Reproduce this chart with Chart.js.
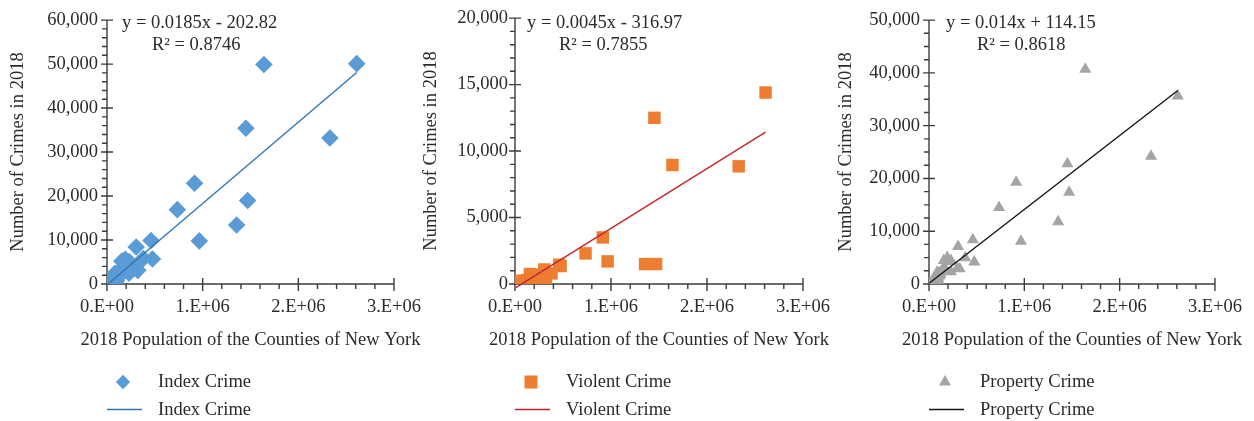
<!DOCTYPE html>
<html>
<head>
<meta charset="utf-8">
<title>Crimes vs. County Population, New York 2018</title>
<script src="https://cdn.jsdelivr.net/npm/chart.js@4.4.1/dist/chart.umd.min.js"></script>
<style>
  html, body { margin: 0; padding: 0; background: #ffffff; }
  #wrap { position: relative; width: 1254px; height: 421px; overflow: hidden; }
  #wrap canvas { position: absolute; left: 0; top: 0; }
</style>
</head>
<body>
<div id="wrap">
  <canvas id="c1" width="1254" height="421"></canvas>
  <canvas id="c2" width="1254" height="421"></canvas>
  <canvas id="c3" width="1254" height="421"></canvas>
</div>
<script>
// ---- data: one entry per county, ordered by population ----
const population = [
  2610000, 2330000, 1640000, 1452000, 1470000, 1355000, 965000, 915000, 735000, 475000,
  460000, 380000, 322000, 305000, 295000, 231000, 230000, 210000, 191000, 178000,
  159000, 155000, 127000, 118000, 113000, 110000, 108000, 103000, 99000, 96000,
  90000, 84000, 80000, 77000, 77000, 75000, 71000, 64000, 63000, 62000,
  61000, 60000, 59000, 58000, 53000, 50000, 49000, 49000, 48000, 48000,
  47000, 47000, 45000, 41000, 40000, 37000, 34000, 31000, 26000, 25000,
  18000, 4500
];
const indexCrime = [
  50100, 33200, 49900, 35400, 19000, 13400, 9800, 22900, 16900, 5700,
  9900, 5800, 3100, 8400, 3600, 5100, 2450, 4950, 5600, 2850,
  3550, 5200, 2600, 1950, 2200, 2000, 1650, 2230, 760, 1410,
  1190, 2450, 1820, 1540, 1430, 1790, 970, 1480, 850, 990,
  650, 760, 860, 1090, 1110, 640, 530, 1000, 660, 960,
  770, 540, 540, 650, 420, 430, 440, 320, 210, 210,
  210, 42
];
const violentCrime = [
  14400, 8850, 8950, 12500, 1500, 1500, 1700, 3500, 2300, 1350,
  1450, 800, 250, 1090, 600, 650, 150, 700, 600, 250,
  350, 750, 300, 150, 200, 100, 150, 130, 60, 110,
  90, 250, 120, 140, 130, 190, 70, 80, 50, 90,
  50, 60, 60, 90, 110, 40, 30, 100, 60, 60,
  70, 40, 40, 50, 20, 30, 40, 20, 10, 10,
  10, 2
];
const propertyCrime = [
  35600, 24200, 40700, 22800, 17400, 11800, 8100, 19300, 14500, 4150,
  8400, 4950, 2900, 7100, 3000, 4450, 2300, 4250, 5000, 2600,
  3200, 4450, 2300, 1800, 2000, 1900, 1500, 2100, 700, 1300,
  1100, 2200, 1700, 1400, 1300, 1600, 900, 1400, 800, 900,
  600, 700, 800, 1000, 1000, 600, 500, 900, 600, 900,
  700, 500, 500, 600, 400, 400, 400, 300, 200, 200,
  200, 40
];

// series names and linear-fit results for each panel
const seriesLabels = ['Index Crime', 'Violent Crime', 'Property Crime'];
const trendSlopes = [0.0185, 0.0045, 0.014];
const trendIntercepts = [-202.82, -316.97, 114.15];
const trendR2 = [0.8746, 0.7855, 0.8618];

// axis ranges and tick steps
const xTickValues = [0, 1000000, 2000000, 3000000];
const xMinorStep = 200000;
const yMaxima = [60000, 20000, 50000];
const yMajorSteps = [10000, 5000, 10000];
const yMinorSteps = [2000, 1000, 2500];

const xAxisTitle = '2018 Population of the Counties of New York';
const yAxisTitle = 'Number of Crimes in 2018';

// ---- drawing ----
const SERIF = "'Liberation Serif', 'Times New Roman', serif";
const FONT_SIZE = 18.5;
const TEXT = '#2b2b2b';
const AXIS = '#3c3c3c';

function sciLabel(v) {
  if (v === 0) return '0.E+00';
  const e = Math.floor(Math.log10(v));
  const m = v / Math.pow(10, e);
  return m + '.E+' + String(e).padStart(2, '0');
}

function markerPath(ctx, style, x, y, r) {
  ctx.beginPath();
  if (style === 'rectRot') {
    ctx.moveTo(x, y - r); ctx.lineTo(x + r, y); ctx.lineTo(x, y + r); ctx.lineTo(x - r, y);
  } else if (style === 'rect') {
    const h = r * Math.SQRT1_2;
    ctx.rect(x - h, y - h, 2 * h, 2 * h);
  } else {
    const s = Math.sin(Math.PI / 3) * r;
    ctx.moveTo(x, y - r); ctx.lineTo(x + s, y + r / 2); ctx.lineTo(x - s, y + r / 2);
  }
  ctx.closePath();
}

// axes with crossing major ticks and outside minor ticks
const axisFrame = {
  id: 'axisFrame',
  beforeDatasetsDraw(chart, args, o) {
    const { ctx, chartArea: a, scales: { x, y } } = chart;
    ctx.save();
    ctx.strokeStyle = AXIS;
    ctx.lineWidth = 1.4;
    ctx.beginPath();
    ctx.moveTo(a.left, a.top); ctx.lineTo(a.left, a.bottom); ctx.lineTo(a.right, a.bottom);
    for (let v = 0; v <= y.max + 1e-6; v += o.yMinor) {
      const p = y.getPixelForValue(v);
      const major = Math.abs(v / o.yStep - Math.round(v / o.yStep)) < 1e-6;
      if (major) { ctx.moveTo(a.left - 6, p); ctx.lineTo(a.left + 6, p); }
      else { ctx.moveTo(a.left - 5, p); ctx.lineTo(a.left, p); }
    }
    for (let v = 0; v <= x.max + 1e-6; v += xMinorStep) {
      const p = x.getPixelForValue(v);
      const major = xTickValues.includes(Math.round(v));
      if (major) { ctx.moveTo(p, a.bottom - 6); ctx.lineTo(p, a.bottom + 7); }
      else { ctx.moveTo(p, a.bottom); ctx.lineTo(p, a.bottom + 5); }
    }
    ctx.stroke();
    ctx.restore();
  }
};

// x-axis title, fit equation and the two-row legend
const fitNotes = {
  id: 'fitNotes',
  afterDraw(chart, args, o) {
    const { ctx, chartArea: a } = chart;
    const ds = chart.data.datasets;
    ctx.save();
    ctx.font = FONT_SIZE + 'px ' + SERIF;
    ctx.fillStyle = TEXT;
    ctx.textBaseline = 'alphabetic';

    ctx.textAlign = 'center';
    ctx.fillText(xAxisTitle, (a.left + a.right) / 2, 345);

    ctx.textAlign = 'left';
    ctx.fillText(o.equation, a.left + o.eqDx, 28);
    ctx.fillText(o.r2, a.left + o.r2Dx, 50);

    // legend: marker row then line row
    const pts = ds[1];
    ctx.fillStyle = pts.backgroundColor;
    markerPath(ctx, pts.pointStyle, a.left + 16, 382, o.legendR);
    ctx.fill();
    ctx.strokeStyle = ds[0].borderColor;
    ctx.lineWidth = 1.4;
    ctx.beginPath();
    ctx.moveTo(a.left, 409.5); ctx.lineTo(a.left + 35, 409.5);
    ctx.stroke();
    ctx.fillStyle = TEXT;
    ctx.fillText(pts.label, a.left + 51, 387);
    ctx.fillText(ds[0].label, a.left + 51, 415);
    ctx.restore();
  }
};

const panels = [
  { id: 'c1', values: indexCrime, style: 'rectRot', color: '#5B9BD5', line: '#2E75B6', r: 8.8, legendR: 7.2,
    left: 107, right: 394, yWidth: 107, labelPad: 9, eqDx: 15, r2Dx: 45 },
  { id: 'c2', values: violentCrime, style: 'rect', color: '#ED7D31', line: '#C8232C', r: 8.8, legendR: 9.2,
    left: 515, right: 803, yWidth: 102, labelPad: 7, eqDx: 12, r2Dx: 44 },
  { id: 'c3', values: propertyCrime, style: 'triangle', color: '#A5A5A5', line: '#141414', r: 7, legendR: 7,
    left: 929, right: 1218, yWidth: 101, labelPad: 9, eqDx: 17, r2Dx: 48 }
];

const AREA_TOP = 15, AREA_BOTTOM = 284, X_BOX = 70;

panels.forEach((p, i) => {
  const slope = trendSlopes[i], icpt = trendIntercepts[i];
  const xMin = Math.min(...population), xMax = Math.max(...population);
  const fitLine = [xMin, xMax].map(x => ({ x, y: slope * x + icpt }));
  const equation = 'y = ' + slope + 'x ' + (icpt < 0 ? '- ' : '+ ') + Math.abs(icpt);
  const r2 = 'R\u00B2 = ' + trendR2[i];

  new Chart(document.getElementById(p.id), {
    type: 'scatter',
    data: {
      datasets: [
        {
          label: seriesLabels[i],
          data: fitLine,
          showLine: true,
          borderColor: p.line,
          borderWidth: 1.4,
          pointRadius: 0,
          fill: false,
          clip: false,
          order: 1
        },
        {
          label: seriesLabels[i],
          data: population.map((x, k) => ({ x, y: p.values[k] })),
          pointStyle: p.style,
          backgroundColor: p.color,
          borderColor: p.color,
          borderWidth: 0,
          pointRadius: p.r,
          order: 2
        }
      ]
    },
    options: {
      responsive: false,
      animation: false,
      events: [],
      layout: {
        padding: {
          left: p.left - p.yWidth,
          right: 1254 - p.right,
          top: AREA_TOP,
          bottom: 421 - AREA_BOTTOM - X_BOX
        }
      },
      plugins: {
        legend: { display: false },
        tooltip: { enabled: false },
        axisFrame: { yStep: yMajorSteps[i], yMinor: yMinorSteps[i] },
        fitNotes: { equation, r2, eqDx: p.eqDx, r2Dx: p.r2Dx, legendR: p.legendR }
      },
      scales: {
        x: {
          type: 'linear',
          position: 'bottom',
          min: 0,
          max: xTickValues[xTickValues.length - 1],
          afterBuildTicks: s => { s.ticks = xTickValues.map(v => ({ value: v })); },
          afterFit: s => { s.height = X_BOX; },
          ticks: {
            callback: v => sciLabel(v),
            padding: 12,
            maxRotation: 0,
            autoSkip: false,
            color: TEXT,
            font: { family: SERIF, size: FONT_SIZE }
          },
          grid: { display: false, drawTicks: false },
          border: { display: false },
          title: { display: false }
        },
        y: {
          type: 'linear',
          min: 0,
          max: yMaxima[i],
          afterFit: s => { s.width = p.yWidth; },
          ticks: {
            stepSize: yMajorSteps[i],
            callback: v => v.toLocaleString('en-US'),
            padding: p.labelPad,
            color: TEXT,
            font: { family: SERIF, size: FONT_SIZE }
          },
          grid: { display: false, drawTicks: false },
          border: { display: false },
          title: {
            display: true,
            text: yAxisTitle,
            color: TEXT,
            padding: { top: 7, bottom: 0 },
            font: { family: SERIF, size: FONT_SIZE }
          }
        }
      }
    },
    plugins: [axisFrame, fitNotes]
  });
});
</script>
</body>
</html>
